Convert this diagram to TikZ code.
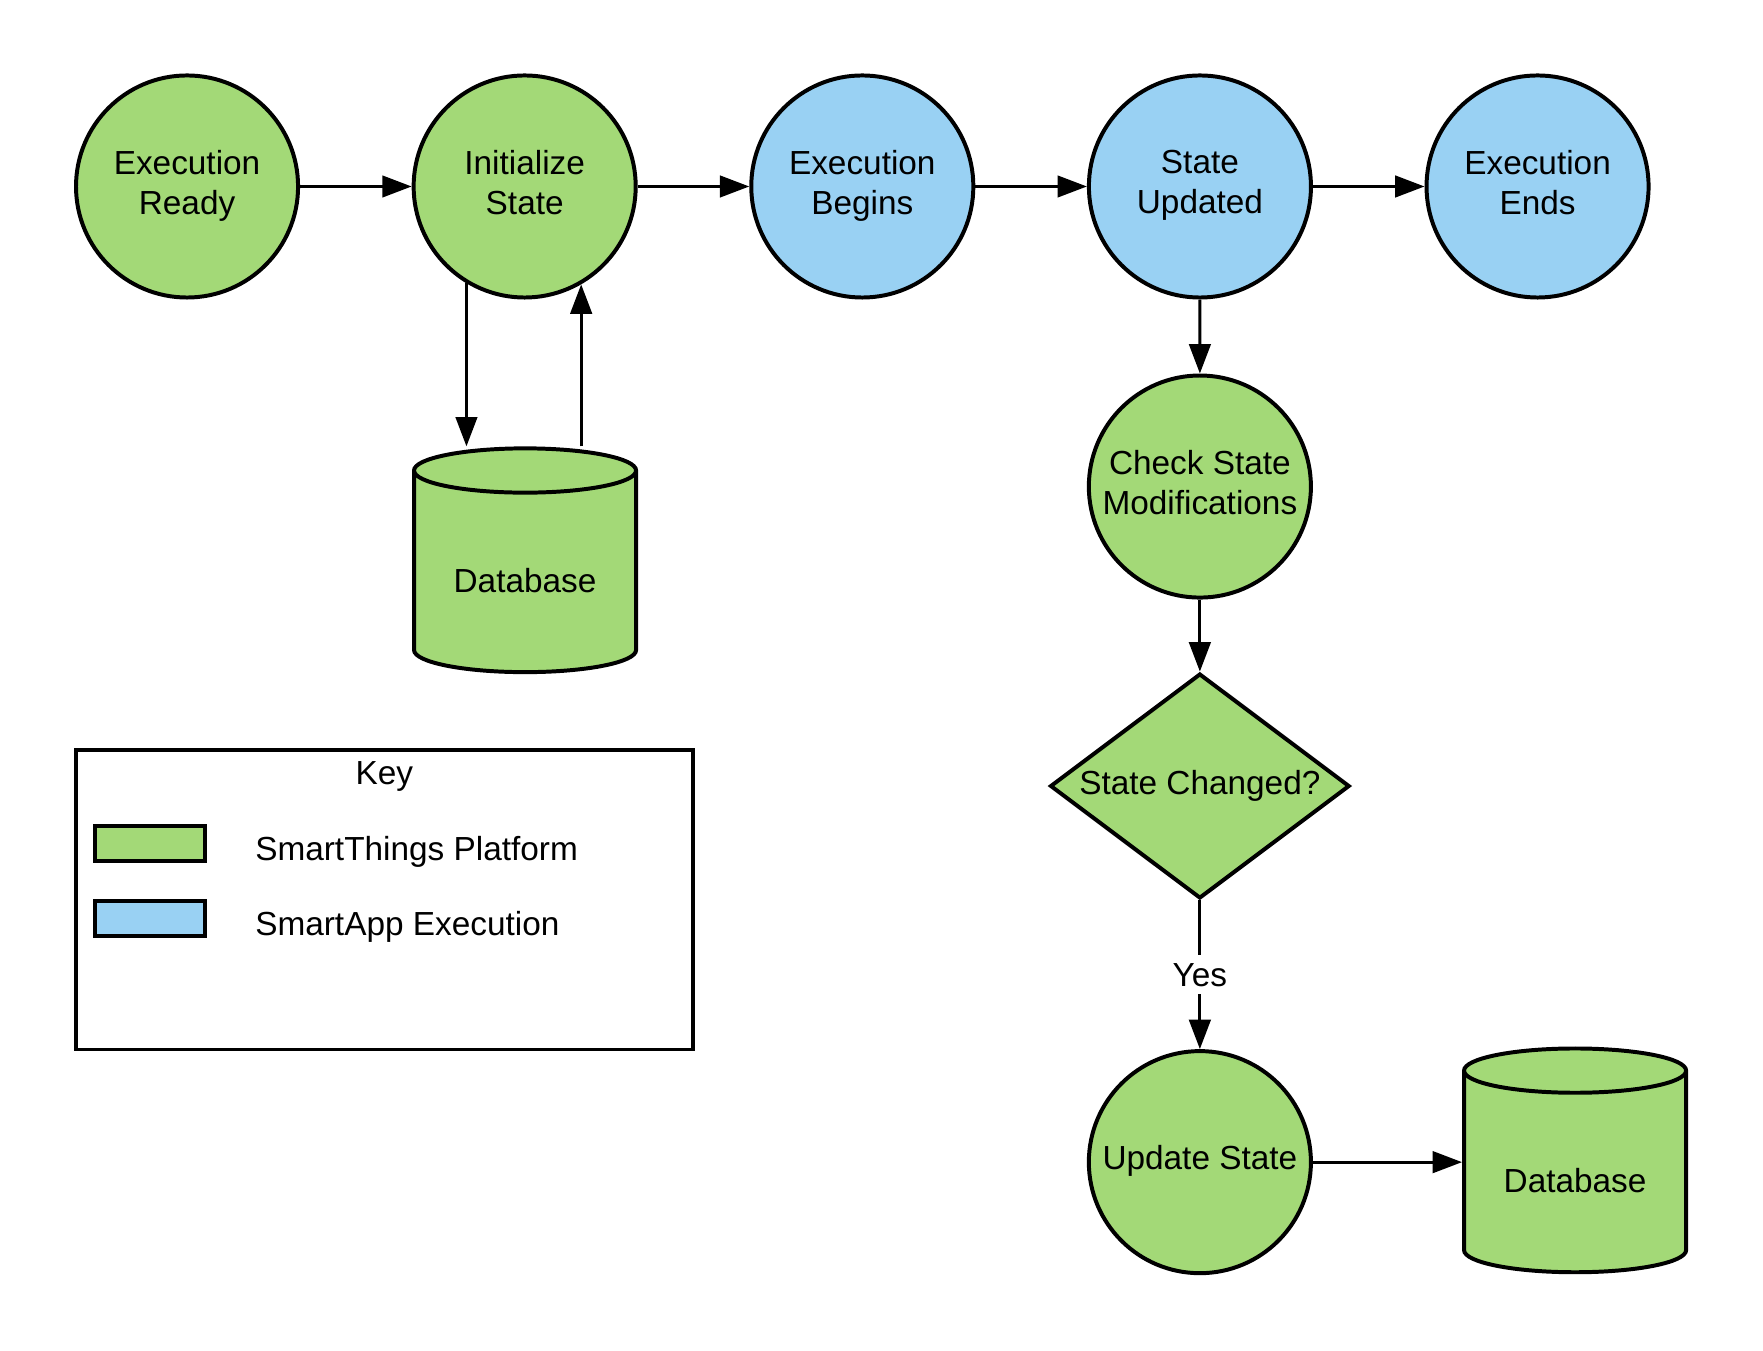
\documentclass[tikz,border=0pt]{standalone}
\usepackage{fontspec}
\setmainfont{Liberation Sans}
\usetikzlibrary{positioning,shapes.geometric,arrows.meta}
\definecolor{platgreen}{HTML}{A3D977}
\definecolor{appblue}{HTML}{99D1F3}
\tikzset{
    every node/.style={font=\fontsize{8.4}{10}\selectfont},
    plat/.style={fill=platgreen},
    app/.style={fill=appblue},
    state/.style={circle, draw, line width=1pt, minimum size=1.965cm, inner sep=0pt,
        align=center, text depth=2.2pt},
    dbase/.style={cylinder, shape border rotate=90, draw, line width=1pt, plat,
        minimum width=1.965cm, minimum height=1.98cm, aspect=0.31, inner sep=0pt, text height=10pt},
    check/.style={diamond, draw, line width=1pt, plat, aspect=1.33,
        minimum width=2.65cm, minimum height=1.99cm, inner sep=0pt},
    swatch/.style={rectangle, draw, line width=1pt, minimum width=0.98cm, minimum height=0.31cm},
    flow/.style={-{Triangle[length=0.26cm, width=0.19cm]}, line width=0.75pt},
}
\begin{document}
\begin{tikzpicture}
    \useasboundingbox (0,0) rectangle (15.6,-11.946);
    % top row
    \foreach \n/\t/\c [count=\i] in {ready/{Execution\\Ready}/plat, init/{Initialize\\State}/plat,
        begin/{Execution\\Begins}/app, upd/{State\\Updated}/app, ends/{Execution\\Ends}/app} {
        \node[state, \c] (\n) at (2.9875*\i-1.3325, -1.65) {\t};
    }
    \foreach \a/\b in {ready/init, init/begin, begin/upd, upd/ends}
        \draw[flow] (\a) -- (\b);
    \node[dbase] (db1) at (4.646,-5.064) {Database};
    \draw[flow] (init.-121) -- (init.-121 |- db1.north);
    \draw[flow] (init.-60 |- db1.north) -- (init.-60);
    % right column
    \node[state, plat] (mods) at (10.617,-4.305) {Check State\\Modifications};
    \node[check] (changed) at (10.617,-6.955) {State Changed?};
    \node[state, plat] (write) at (10.617,-10.283) {Update State};
    \node[dbase] (db2) at (13.937,-10.374) {Database};
    \draw[flow] (upd) -- (mods);
    \draw[flow] (mods) -- (changed);
    \draw[flow] (changed) -- node[fill=white, inner sep=2pt] {Yes} (write);
    \draw[flow] (write) -- (write -| db2.west);
    % key
    \node[draw, line width=0.85pt, minimum width=5.46cm, minimum height=2.65cm] (key) at (3.401,-7.96) {};
    \node (keytitle) at (3.40,-6.87) {Key};
    \node[swatch, plat] (swplat) at (1.327,-7.464) {};
    \node[swatch, app] (swapp) at (1.327,-8.128) {};
    \node[right=0.30cm of swplat, yshift=-0.075cm] (txtplat) {SmartThings Platform};
    \node[right=0.30cm of swapp, yshift=-0.075cm] (txtapp) {SmartApp Execution};
\end{tikzpicture}
\end{document}
